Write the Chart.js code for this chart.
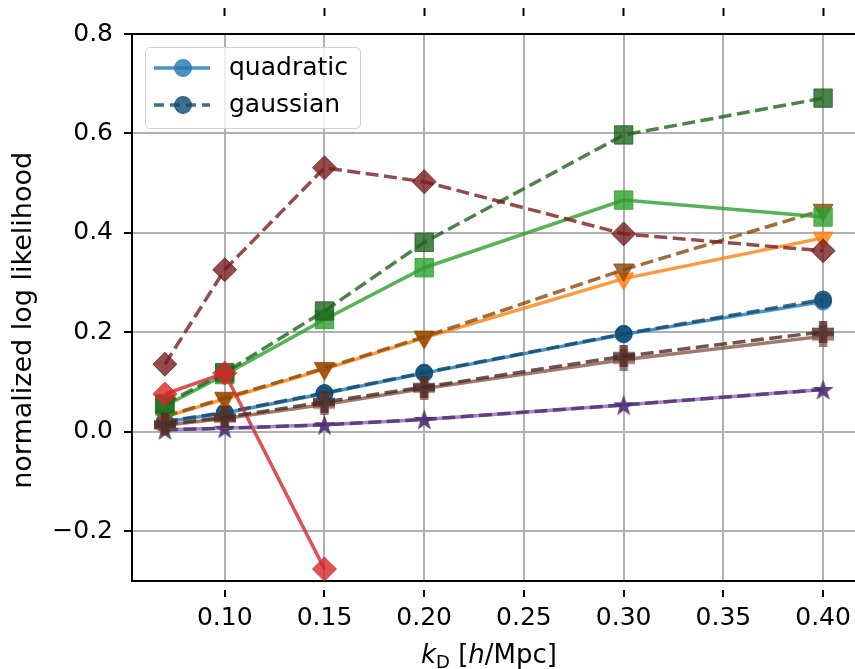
<!DOCTYPE html>
<html>
<head>
<meta charset="utf-8">
<script src="https://cdn.jsdelivr.net/npm/chart.js@4.4.1/dist/chart.umd.min.js"></script>
<style>
  html, body { margin: 0; padding: 0; background: #fff; overflow: hidden; }
  #wrap { position: relative; width: 855px; height: 669px; overflow: hidden; font-family: 'DejaVu Sans'; }
  #myChart { position: absolute; left: 0; top: 0; }
  #legend { position: absolute; left: 145px; top: 47px; width: 214px; height: 80px;
            border: 1.5px solid #d0d0d0; border-radius: 5px; background: rgba(255,255,255,0.8); }
  .lg-sym { position: absolute; left: 8px; }
  .lg-txt { position: absolute; left: 83px; font-size: 25px; line-height: 30px; color: #000; white-space: nowrap; }
  #xtitle { position: absolute; left: 489px; top: 639px; transform: translateX(-50%);
            font-size: 26px; line-height: 30px; white-space: nowrap; color: #000; }
  #xtitle sub { font-size: 18px; vertical-align: -5px; line-height: 0; }
</style>
</head>
<body>
<div id="wrap">
  <canvas id="myChart" width="870" height="669"></canvas>
  <div id="legend">
    <svg class="lg-sym" style="top:8px" width="58" height="24">
      <line x1="0" y1="12" x2="56" y2="12" stroke="rgba(31,119,180,0.8)" stroke-width="3.5"/>
      <circle cx="29" cy="12" r="8.5" fill="rgba(31,119,180,0.8)" stroke="rgba(31,119,180,0.8)" stroke-width="1"/>
    </svg>
    <div class="lg-txt" style="top:4px">quadratic</div>
    <svg class="lg-sym" style="top:45px" width="58" height="24">
      <line x1="0" y1="12" x2="56" y2="12" stroke="rgba(15,72,110,0.8)" stroke-width="3.5" stroke-dasharray="10 6"/>
      <circle cx="29" cy="12" r="8.5" fill="rgba(15,72,110,0.8)" stroke="rgba(15,72,110,0.8)" stroke-width="1"/>
    </svg>
    <div class="lg-txt" style="top:41px">gaussian</div>
  </div>
  <div id="xtitle"><i>k</i><sub>D</sub> [<i>h</i>/Mpc]</div>
</div>
<script>
// k_D values [h/Mpc]
const kValues = [0.07, 0.10, 0.15, 0.20, 0.30, 0.40];

// quadratic model (solid lines)
const blueQuad   = [0.020, 0.038, 0.077, 0.118, 0.196, 0.262];
const orangeQuad = [0.030, 0.066, 0.126, 0.189, 0.308, 0.390];
const greenQuad  = [0.052, 0.115, 0.226, 0.330, 0.466, 0.432];
const redQuad    = [0.076, 0.118, -0.276, null, null, null];
const purpleQuad = [0.004, 0.007, 0.014, 0.025, 0.054, 0.085];
const brownQuad  = [0.013, 0.027, 0.055, 0.087, 0.145, 0.192];

// gaussian model (dashed lines)
const blueGauss   = [0.021, 0.039, 0.078, 0.119, 0.197, 0.266];
const orangeGauss = [0.031, 0.068, 0.128, 0.191, 0.326, 0.446];
const greenGauss  = [0.056, 0.119, 0.243, 0.381, 0.597, 0.671];
const redGauss    = [0.136, 0.326, 0.531, 0.503, 0.398, 0.364];
const purpleGauss = [0.004, 0.007, 0.014, 0.025, 0.054, 0.085];
const brownGauss  = [0.015, 0.029, 0.060, 0.090, 0.152, 0.201];

const xTicks = [0.10, 0.15, 0.20, 0.25, 0.30, 0.35, 0.40];
const yTicks = [-0.2, 0.0, 0.2, 0.4, 0.6, 0.8];

// filled star / filled plus markers (Chart.js only has line versions)
function starImage(color, s) {
  const c = document.createElement('canvas');
  c.width = c.height = s;
  const g = c.getContext('2d');
  const R = s / 2 - 0.5, r = R * 0.382;
  g.beginPath();
  for (let i = 0; i < 10; i++) {
    const a = -Math.PI / 2 + i * Math.PI / 5;
    const rr = i % 2 ? r : R;
    g.lineTo(s / 2 + rr * Math.cos(a), s / 2 + 1 + rr * Math.sin(a));
  }
  g.closePath();
  g.fillStyle = color;
  g.fill();
  return c;
}
function plusImage(color, s) {
  const c = document.createElement('canvas');
  c.width = c.height = s;
  const g = c.getContext('2d');
  const a = s * 0.31, b = s - a;
  g.beginPath();
  g.moveTo(a, 0); g.lineTo(b, 0); g.lineTo(b, a); g.lineTo(s, a); g.lineTo(s, b);
  g.lineTo(b, b); g.lineTo(b, s); g.lineTo(a, s); g.lineTo(a, b); g.lineTo(0, b);
  g.lineTo(0, a); g.lineTo(a, a);
  g.closePath();
  g.fillStyle = color;
  g.fill();
  return c;
}

function series(data, rgb, dashed, marker) {
  const col = 'rgba(' + rgb + ',0.8)';
  let style = marker, radius = 8.5, rot = 0;
  if (marker === 'triangle') { radius = 11.5; rot = 180; }
  if (marker === 'rect') radius = 13;
  if (marker === 'rectRot') radius = 12;
  if (marker === 'star') style = starImage(col, 23);
  if (marker === 'plus') style = plusImage(col, 22);
  return {
    data: data,
    borderColor: col,
    backgroundColor: col,
    borderWidth: 3.5,
    borderDash: dashed ? [13, 5.5] : [],
    tension: 0,
    pointStyle: style,
    pointRadius: radius,
    pointRotation: rot,
    pointBorderWidth: 1,
    pointBackgroundColor: col,
    pointBorderColor: col,
    spanGaps: false
  };
}

const datasets = [
  series(blueQuad,   '31,119,180', false, 'circle'),
  series(blueGauss,  '15,72,110',  true,  'circle'),
  series(orangeQuad, '255,127,14', false, 'triangle'),
  series(orangeGauss,'140,72,10',  true,  'triangle'),
  series(greenQuad,  '44,160,44',  false, 'rect'),
  series(greenGauss, '30,100,30',  true,  'rect'),
  series(redQuad,    '214,39,40',  false, 'rectRot'),
  series(redGauss,   '120,30,30',  true,  'rectRot'),
  series(purpleQuad, '148,103,189',false, 'star'),
  series(purpleGauss,'72,48,110',  true,  'star'),
  series(brownQuad,  '140,86,75',  false, 'plus'),
  series(brownGauss, '75,42,36',   true,  'plus')
];
// later datasets on top, like matplotlib
datasets.forEach((d, i) => { d.order = datasets.length - i; });

const tickFont = { family: 'DejaVu Sans', size: 25 };

new Chart('myChart', {
  type: 'line',
  data: { labels: kValues, datasets: datasets.map(d => Object.assign(d, {
    data: d.data.map((v, i) => ({ x: kValues[i], y: v })) })) },
  options: {
    responsive: false,
    animation: false,
    layout: { padding: { top: 8, left: 0, right: 4, bottom: 0 } },
    plugins: { legend: { display: false }, tooltip: { enabled: false } },
    scales: {
      x: {
        type: 'linear', position: 'bottom', min: 0.0535, max: 0.4165,
        afterBuildTicks: s => { s.ticks = xTicks.map(v => ({ value: v })); },
        afterFit: s => { s.height = 88; },
        border: { color: '#000', width: 2 },
        grid: { color: '#b0b0b0', lineWidth: 2, tickLength: 16, tickColor: '#000', tickWidth: 2,
                tickBorderDash: [0, 8, 8, 40] },
        ticks: { color: '#000', font: tickFont, padding: 6, maxRotation: 0,
                 callback: v => v.toFixed(2) }
      },
      xTop: {
        type: 'linear', position: 'top', min: 0.0535, max: 0.4165,
        afterBuildTicks: s => { s.ticks = xTicks.map(v => ({ value: v })); },
        afterFit: s => { s.height = 26; },
        border: { color: '#000', width: 2 },
        grid: { drawOnChartArea: false, tickLength: 26, tickColor: '#000', tickWidth: 2,
                tickBorderDash: [8, 40] },
        ticks: { display: false }
      },
      y: {
        min: -0.3, max: 0.8,
        afterBuildTicks: s => { s.ticks = yTicks.map(v => ({ value: v })); },
        afterFit: s => { s.width = 132; },
        border: { color: '#000', width: 2 },
        grid: { color: '#b0b0b0', lineWidth: 2, tickLength: 8, tickColor: '#000', tickWidth: 2 },
        ticks: { color: '#000', font: tickFont, padding: 11,
                 callback: v => (Math.abs(v) < 1e-9 ? 0 : v).toFixed(1).replace('-', '\u2212') },
        title: {
          display: true,
          // trailing spaces push the label down a little (original axes was taller)
          text: 'normalized log likelihood   ',
          color: '#000',
          font: { family: 'DejaVu Sans', size: 27 },
          padding: { top: 8, bottom: 0 }
        }
      }
    }
  }
});
</script>
</body>
</html>
